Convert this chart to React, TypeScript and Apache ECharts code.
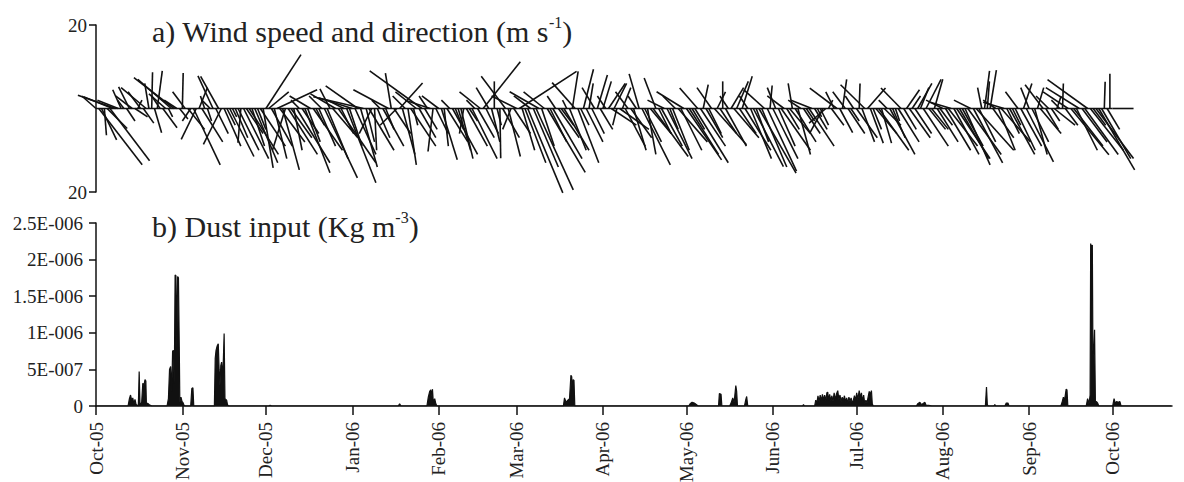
import React, { useEffect, useRef } from "react";
import * as echarts from "echarts";

// Days counted from 1 Oct 2005
const monthStarts = [0, 31, 61, 92, 123, 151, 182, 212, 243, 273, 304, 335, 365];
const monthLabels = ["Oct-05", "Nov-05", "Dec-05", "Jan-06", "Feb-06", "Mar-06", "Apr-06", "May-06", "Jun-06", "Jul-06", "Aug-06", "Sep-06", "Oct-06"];

// Daily wind vector components (m s-1), day 0 = 1 Oct 2005
const windU = [
  -3.4, 10.4, 3.6, 0.5, 4.8, 9.5, -7, -9, -5, -2,
  -1.5, 2, -2.6, -4, 3, 1, -3, 2.5, -6, -1,
  0.2, 1.7, 1.2, -2, 3.4, -4, 1, -8, -9.6, -3,
  2, 0.2, -3, 4, -2, 6.4, -3.6, 2, 5, -1,
  1, -2, -3.6, 3, -4.3, -4.3, 4, 2, 5.8, 1,
  3, 5, -0.7, 6, 4, 7, 3, 5.5, 2, 6,
  2.4, 8.4, 4.8, 5, 3, 9.6, 6, 4, -3.1, 7,
  5, 2, 8, -2, 4, 6, 3, -5, 7, 2,
  4, -3, 7.9, 5, -2.4, 6, -6, 9, 3, -4,
  7, 3, -8, 5, -7.7, 4, -12, 2, 6, -3,
  0.5, 3, -2, 5, 2, -8.4, -1.4, 4, -4, 5.5,
  3, -3, 2, 6, 1, -5, 4, -12.5, 3, -2,
  -6, -1.2, 3, -4, 3.8, 1, 5, -2, 6, 2,
  3, 2.9, -1, 5, 2, 6, -2, 4, -5, 8.9,
  3, -3, 2, 0, 1, 0.2, 4, -5.8, 2.9, -2,
  4, -6, 13.7, 3, 5, 8.4, -4, 6, 8.9, -7,
  3, -5, 9.1, 4, 7, -2, 5, 3, 6, -1,
  4, 1.4, -5.5, 5, 2, 2.4, 4, 1, 3, -3,
  2.4, 3, 2, -2, 4, 6, 3, -1, 7, 2,
  4.8, -3, 5, 3, -2, -2.4, 6.8, 4, 2, 5,
  8.4, -2.8, 3, 5, -4, 6, 2, 4, -3, 7,
  5, -6.5, 8.4, 7, 3, 8, -4.3, 6, 1.2, 4,
  3, -3.5, 7.7, 2, 4, 0, 5, -2, 3, 6,
  2.8, 4, 2.4, 6.2, -2, 5, 7.2, 3, 8.9, 6,
  -5, 7, 0.5, 6, -2, 4, 7, -4, 3, 5,
  -1, 5, 3, -3, 4, 2, 6, -5, 3, 1,
  2, -3.1, -4, 1, 3, -2, -6.5, 3.1, 1, -3,
  4, 2, -2, 5, 0.2, 3, -5.8, 4.3, 3.1, 2,
  5, 7.2, 2.4, 4, -2, 6, 3, 1, 5, -4.8,
  3, 3.1, 5, 2, 4, 3.4, 2, 6, 3.6, 4,
  4, 2, 5, 3, -4, 6, 7, -5, 6, 8,
  7, 5, 6, 8, -4, 7, 9, 4, -1, 1.2,
  0.5, 1.5, 5, -3, 4, 7, -5, 3, 6, 2,
  4.8, -3, 5, 2, 6.5, -2, 4, 3, 1.5, 5,
  -4.3, 3, -3, 2, 5, 1, -2, 0.2, 3, -6,
  9.1, 7, 5, -8, 6, 8, -9.6, 7.9, 3, 9,
  8.6, 7, 0.2, 3, 0, 5,
];
const windV = [
  3.0, -13.5, -7.5, -6.4, -4.8, -12.5, 2.8, 3.2, 2.0, 4.5,
  2, -3, 5.2, 3, -2, 2, 4, -3.5, 5, 6,
  8.7, -5.8, 9, 3, -4.6, 3.5, -2, 7, 7.4, 2,
  -2.5, 8.5, 4, -5, -3, -13.5, -7.4, 5, -8, 3,
  -3, 2, 7.8, -6, 7.7, -8.6, -9, -4, -11.5, -2,
  -7, -10, -8.2, -12, -6, -11, -9, -13, -5, -9,
  -14.2, 12.9, 4, -9, -12, 4.5, -8, -14.7, -10, -11,
  -7, -10, -13, 2, -6, -15.4, -8, 3, -10, -4,
  -9, 3, -16.6, -12, 4.7, -7, 3.5, -13, -6, 2,
  -17.8, -9, 2.5, -11, 5.4, -14, 2.8, -8, -10, -6,
  -10, -7, 2, -9, -5, 4.5, 8.5, -6, -4, 6.1,
  -11, 3, -13.5, -9, -4, 4, -7, 9, -5, 3,
  2, -10.3, -6, 3, -12.3, -9, -8, 2, -11, -5,
  -10, -12, -6, -9, -3, -12, 2, -7, 4, 11.2,
  -6, 5, -8, 6.5, -4, -11.9, -7, 7.7, -11.5, -5,
  -6, 3, 8.9, -10, -13, -20.2, 3, -14, -19.5, 4,
  -9, 4, -15.3, -8, -12, 3, -7, -4, -10, 2,
  -10, 8.9, 6.2, -13, -4, 9.4, -8, 6, -6, 5,
  8, -5, 6.5, 3, 6, -4, 6, -4, -5, 5,
  -9.1, 4, -7, -10, 3, 8.3, -13.5, -8, -11, -6,
  -11.5, 7.3, -6, -9, 2, -12, -5, -10, 3, -8,
  -10, 4, -12.3, -11, -5, -13, 4.9, -9, 5.7, -7,
  -6, 5, -8.7, 4, -6, 6.5, -9, 3, 5, -7,
  6.5, -6, 7.7, -10, 3, -12, -13.9, -8, -15.5, -14,
  4.5, -15, 5.5, -12, 5, -9, -10, 3, -5, -6,
  6, -8, -11, 2, -6, -3, -9, 2, -5, -2,
  -4, -5.8, -3.5, 2, -4, 4, 4.9, -5.8, 7, 4,
  -6, -3, 3, -7, 6, -8, 5.7, 4.9, -8.3, -5,
  -6, -10, -8.3, -4, 2, -11, -7, -3, -8, 4.9,
  -5, 4.5, -7, 3, -6, 6, 5, -9, 7, -5,
  -5, 7, -8, -4, 2, -10, -9, 1.5, -11, -12,
  -12, -9, -13.5, -11, 2, -13, -10, -8, 5, 9,
  6.5, 9.2, -7, 2, -10, -8, 1.5, -6, -11, -4,
  -10, 4, -9, 6, -12.8, 5, -8, -11, 5, -6,
  5.7, -5, 3, -3, -4, 3, 2, 6, -4, 4,
  -11.1, -9, -10, 5, -8, -11, 6.9, -10, -4, -12,
  -14.7, -12, 6.4, -5, 8.3, 0,
];
const windTickValues = [-20, 20];
const windTickLabels = ["20", "20"];

// Dust input: [day since 1 Oct 2005, value in units of 1E-7 Kg m-3]
const dustPoints = [
  [0, 0], [11.5, 0], [12.0, 1.0], [12.4, 1.5], [12.8, 0.8], [13.2, 1.1], [13.6, 0.3], [14.0, 0.9], [14.4, 0.2],
  [15.2, 0], [15.5, 4.7], [15.8, 0.1], [16.4, 0.5], [16.8, 3.1], [17.2, 2.8], [17.6, 3.6], [17.9, 3.4], [18.1, 0.2],
  [18.5, 0.4], [19.0, 0.2], [19.5, 0.1], [20, 0],
  [25.5, 0], [26.0, 1.0], [26.4, 5.0], [26.8, 5.4], [27.2, 2.0], [27.5, 7.5], [27.8, 7.6], [28.1, 3.0], [28.4, 17.9],
  [28.7, 17.8], [29.0, 8.0], [29.3, 17.7], [29.6, 17.5], [29.9, 8.0], [30.1, 0.5], [30.5, 1.2], [30.9, 0.6], [31.2, 0.5],
  [31.6, 0.1], [32, 0],
  [34.0, 0], [34.4, 2.4], [34.8, 2.5], [35.1, 0],
  [42.5, 0], [42.8, 6.5], [43.1, 7.6], [43.5, 8.2], [43.9, 8.5], [44.2, 5.0], [44.5, 2.8], [44.8, 5.5], [45.1, 6.0],
  [45.4, 4.0], [45.7, 6.0], [46.0, 9.9], [46.3, 1.0], [46.6, 0.9], [46.9, 0.8], [47.2, 0.2], [47.6, 0],
  [62.0, 0], [62.5, 0.1], [63, 0],
  [108.5, 0], [109.0, 0.3], [109.5, 0],
  [118.8, 0], [119.3, 1.2], [119.8, 2.0], [120.2, 2.2], [120.6, 1.4], [120.8, 2.3], [121.1, 0.5], [121.6, 1.0], [122.0, 0.3], [122.4, 0],
  [167.8, 0], [168.2, 1.1], [168.8, 0.5], [169.4, 0.8], [170.0, 1.0], [170.5, 4.2], [170.8, 4.0], [171.0, 1.0], [171.3, 3.6], [171.6, 3.5], [171.9, 0],
  [212.8, 0], [213.3, 0.3], [214.0, 0.5], [214.8, 0.4], [215.5, 0.2], [216.2, 0],
  [223.5, 0], [223.8, 1.7], [224.4, 1.6], [224.7, 0],
  [227.5, 0], [228, 0.4], [228.6, 1.1], [229.1, 0.5], [229.7, 2.8], [230.0, 2.0], [230.3, 0],
  [232.8, 0], [233.3, 0.9], [233.6, 1.3], [234.0, 0],
  [253.7, 0], [254.0, 0.2], [254.3, 0],
  [258.0, 0], [258.4, 0.8], [258.8, 0.4], [259.2, 1.4], [259.6, 0.6], [260.0, 1.5], [260.4, 0.7], [260.8, 1.6], [261.2, 0.8],
  [261.6, 1.5], [262.0, 0.7], [262.4, 1.8], [262.7, 1.9], [263.0, 0.8], [263.4, 1.6], [263.8, 0.7], [264.2, 1.4], [264.6, 0.6],
  [265.0, 1.8], [265.4, 0.8], [265.8, 1.6], [266.3, 2.1], [266.7, 0.9], [267.1, 1.5], [267.5, 0.6], [267.9, 1.2], [268.3, 0.7],
  [268.7, 1.4], [269.1, 0.6], [269.5, 1.1], [269.9, 0.4], [270.3, 1.2], [270.7, 0.7], [271.1, 1.1], [271.5, 0.4], [271.9, 0.8],
  [272.3, 1.4], [272.7, 0.7], [273.1, 1.8], [273.5, 0.9], [274.0, 2.1], [274.4, 1.1], [274.8, 1.8], [275.2, 0.6], [275.6, 1.5],
  [276.0, 0.3], [276.4, 0.8], [276.8, 0.4], [277.2, 1.2], [277.6, 2.0], [278.0, 1.6], [278.4, 2.1], [278.7, 0.3], [279.0, 0],
  [294.5, 0], [295, 0.3], [295.8, 0.5], [296.2, 0.2], [296.8, 0.3], [297.6, 0.5], [298.0, 0.1], [299, 0.1], [300, 0],
  [319.3, 0], [319.7, 2.6], [320.0, 0.2], [320.3, 0],
  [322.3, 0], [322.7, 0.2], [323, 0],
  [326.3, 0], [326.8, 0.4], [327.4, 0.4], [327.8, 0],
  [346.4, 0], [346.9, 0.6], [347.3, 1.2], [347.7, 0.8], [348.0, 1.5], [348.3, 2.3], [348.6, 2.2], [348.9, 0],
  [355.5, 0], [356.0, 1.0], [356.5, 0.3], [356.9, 1.5], [357.1, 22.2], [357.4, 21.5], [357.7, 22.0], [357.9, 7.6],
  [358.2, 7.0], [358.5, 10.4], [358.8, 0.5], [359.2, 0.6], [359.6, 0.4], [360, 0],
  [365.0, 0], [365.5, 1.0], [365.9, 0.4], [366.4, 0.6], [367.0, 0.5], [367.6, 0.6], [368.0, 0], [386, 0],
];
const dustTickLabels = ["0", "5E-007", "1E-006", "1.5E-006", "2E-006", "2.5E-006"];

const FONT = "'Liberation Serif', 'Times New Roman', serif";
const INK = "#111";
const TXT = "#222";
const X_MAX = 386.3;

export default function App() {
  const ref = useRef<HTMLDivElement>(null);

  useEffect(() => {
    if (!ref.current) return;
    const chart = echarts.init(ref.current, undefined, { renderer: "svg" });

    const windData = windU.map((u, i) => [i, u, windV[i]]);

    const xBase = (gridIndex: number, show: boolean) => ({
      type: "value",
      gridIndex,
      min: 0,
      max: X_MAX,
      show,
      axisLine: { show, onZero: false, lineStyle: { color: INK, width: 1.5 } },
      axisTick: { show, customValues: monthStarts, length: 9, lineStyle: { color: INK, width: 1.5 } },
      axisLabel: {
        show,
        customValues: monthStarts,
        rotate: 90,
        margin: 16,
        fontFamily: FONT,
        fontSize: 19,
        color: TXT,
        formatter: (v: number) => {
          const k = monthStarts.indexOf(Math.round(v));
          return k >= 0 ? monthLabels[k] : "";
        },
      },
      splitLine: { show: false },
    });

    const titleRich = {
      t: { fontFamily: FONT, fontSize: 30, fontWeight: "normal", color: TXT, lineHeight: 34 },
      s: { fontFamily: FONT, fontSize: 16, fontWeight: "normal", color: TXT, lineHeight: 20, verticalAlign: "top" },
    };

    chart.setOption({
      animation: false,
      backgroundColor: "#fff",
      title: [
        {
          text: "{t|a) Wind speed and direction (m s}{s|-1}{t|)}",
          left: 147,
          top: 9,
          textStyle: { fontWeight: "normal", rich: titleRich },
        },
        {
          text: "{t|b) Dust input (Kg m}{s|-3}{t|)}",
          left: 147,
          top: 204,
          textStyle: { fontWeight: "normal", rich: titleRich },
        },
      ],
      grid: [
        { left: 96, top: 25, width: 1076, height: 167, outerBoundsMode: "none", containLabel: false },
        { left: 96, top: 223, width: 1076, height: 183, outerBoundsMode: "none", containLabel: false },
      ],
      xAxis: [xBase(0, false), xBase(1, true)],
      yAxis: [
        {
          type: "value",
          gridIndex: 0,
          min: -20,
          max: 20,
          axisLine: { show: true, onZero: false, lineStyle: { color: INK, width: 1.5 } },
          axisTick: { show: true, customValues: windTickValues, length: 7, lineStyle: { color: INK, width: 1.5 } },
          axisLabel: {
            customValues: windTickValues,
            margin: 9,
            fontFamily: FONT,
            fontSize: 19,
            color: TXT,
            formatter: (v: number) => windTickLabels[windTickValues.indexOf(Math.round(v))] ?? "",
          },
          splitLine: { show: false },
        },
        {
          type: "value",
          gridIndex: 1,
          min: 0,
          max: 25,
          interval: 5,
          axisLine: { show: true, onZero: false, lineStyle: { color: INK, width: 1.5 } },
          axisTick: { show: true, length: 7, lineStyle: { color: INK, width: 1.5 } },
          axisLabel: {
            margin: 13,
            fontFamily: FONT,
            fontSize: 19,
            color: TXT,
            formatter: (v: number) => dustTickLabels[Math.round(v / 5)] ?? "",
          },
          splitLine: { show: false },
        },
      ],
      series: [
        {
          type: "line",
          xAxisIndex: 0,
          yAxisIndex: 0,
          data: [[0, 0], [365, 0]],
          showSymbol: false,
          lineStyle: { color: INK, width: 1.5 },
          silent: true,
        },
        {
          type: "custom",
          xAxisIndex: 0,
          yAxisIndex: 0,
          clip: false,
          encode: { x: 0, y: 2 },
          data: windData,
          renderItem: (_params: any, api: any) => {
            const t = api.value(0);
            const u = api.value(1);
            const v = api.value(2);
            const p0 = api.coord([t, 0]);
            const p1 = api.coord([t, v]);
            const ppu = Math.abs(api.coord([t, 1])[1] - p0[1]);
            return {
              type: "line",
              shape: { x1: p0[0], y1: p0[1], x2: p0[0] + u * ppu, y2: p1[1] },
              style: { stroke: INK, lineWidth: 1.6 },
            };
          },
        },
        {
          type: "line",
          xAxisIndex: 1,
          yAxisIndex: 1,
          data: dustPoints,
          showSymbol: false,
          lineStyle: { color: INK, width: 1.2 },
          areaStyle: { color: INK, opacity: 1 },
          silent: true,
        },
      ],
    });

    return () => chart.dispose();
  }, []);

  return (
    <div
      ref={ref}
      style={{ position: "fixed", left: 0, top: 0, width: 1184, height: 482, background: "#fff" }}
    />
  );
}
